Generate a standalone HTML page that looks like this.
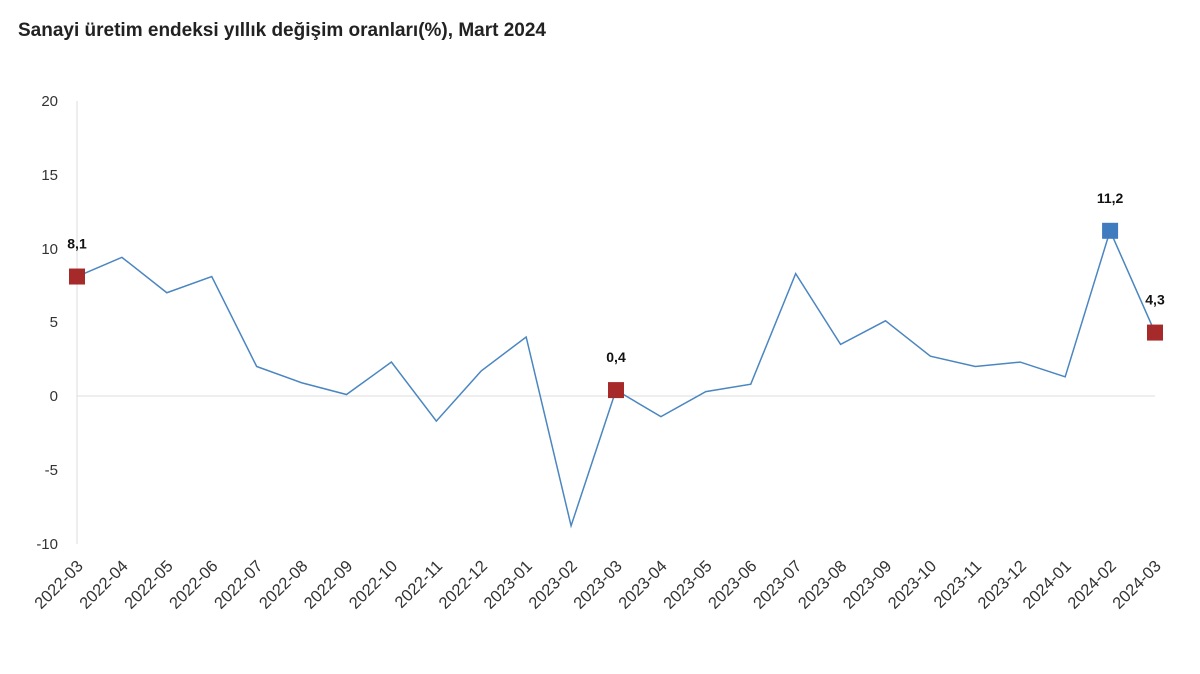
<!DOCTYPE html>
<html><head><meta charset="utf-8"><style>
body{margin:0;background:#fff;width:1200px;height:669px;overflow:hidden;font-family:"Liberation Sans",sans-serif}
</style></head><body>
<svg width="1200" height="669" xmlns="http://www.w3.org/2000/svg" font-family="Liberation Sans, sans-serif">
<text x="18" y="36" font-size="19" font-weight="bold" fill="#222">Sanayi üretim endeksi yıllık değişim oranları(%), Mart 2024</text>
<g font-size="15" fill="#333" text-anchor="end">
<text x="58" y="106">20</text><text x="58" y="180">15</text><text x="58" y="254">10</text>
<text x="58" y="327">5</text><text x="58" y="401">0</text><text x="58" y="475">-5</text><text x="58" y="549">-10</text>
</g>
<line x1="77" y1="101" x2="77" y2="544" stroke="#ddd"/>
<line x1="77" y1="396" x2="1155" y2="396" stroke="#ddd"/>
<g id="lbls" font-size="16.5" fill="#333" text-anchor="end"></g>
<polyline id="ln" fill="none" stroke="#4a86c0" stroke-width="1.5"/>
<g id="mk"></g>
</svg>
<script>
var v=[8.1,9.4,7.0,8.1,2.0,0.9,0.1,2.3,-1.7,1.7,4.0,-8.8,0.4,-1.4,0.3,0.8,8.3,3.5,5.1,2.7,2.0,2.3,1.3,11.2,4.3];
var X=i=>77+i*(1078/24),Y=d=>396-d*14.75;
var pts=v.map((d,i)=>X(i)+","+Y(d)).join(" ");
document.getElementById("ln").setAttribute("points",pts);
var L="",y=2022,m=3;
for(var i=0;i<25;i++){var s=y+"-"+(m<10?"0":"")+m;var x=X(i)+7,yy=567;
L+='<text transform="translate('+x+','+yy+') rotate(-45)">'+s+'</text>';m++;if(m>12){m=1;y++;}}
document.getElementById("lbls").innerHTML=L;
var M="";[[0,"#a72a2a","8,1"],[12,"#a72a2a","0,4"],[23,"#3e7bbf","11,2"],[24,"#a72a2a","4,3"]].forEach(function(a){
var x=X(a[0]),yy=Y(v[a[0]]);M+='<rect x="'+(x-8)+'" y="'+(yy-8)+'" width="16" height="16" fill="'+a[1]+'"/>';
M+='<text x="'+x+'" y="'+(yy-28)+'" font-size="14" font-weight="bold" text-anchor="middle" fill="#111">'+a[2]+'</text>';});
document.getElementById("mk").innerHTML=M;
</script>
</body></html>
